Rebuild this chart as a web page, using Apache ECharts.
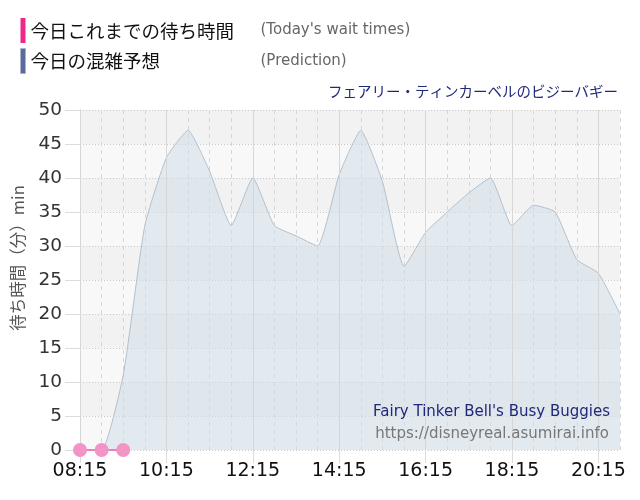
<!DOCTYPE html>
<html>
<head>
<meta charset="utf-8">
<script src="https://cdn.jsdelivr.net/npm/echarts@6/dist/echarts.min.js"></script>
<style>
  html, body { margin: 0; padding: 0; background: #fff; }
  #main { width: 640px; height: 500px; }
</style>
</head>
<body>
<div id="main"></div>
<script>
// time slots, every 30 minutes
const times = [
    '08:15', '08:45', '09:15', '09:45', '10:15', '10:45', '11:15', '11:45', '12:15',
    '12:45', '13:15', '13:45', '14:15', '14:45', '15:15', '15:45', '16:15', '16:45',
    '17:15', '17:45', '18:15', '18:45', '19:15', '19:45', '20:15', '20:45'
];
// predicted wait (min)
const prediction = [
    0, 0, 11, 33, 43, 47, 41, 33, 40,
    33, 31.5, 30, 40.5, 47, 39.5, 27, 32, 35,
    37.8, 40, 33, 36, 35, 28, 26, 20
];
// actual wait so far today
const today = [0, 0, 0];

const yTicks = { min: 0, max: 50, step: 5 };

const latin = '"DejaVu Sans", Verdana, sans-serif';
const jp = '"Noto Sans CJK JP", "DejaVu Sans", sans-serif';

const myChart = echarts.init(document.getElementById('main'));

let option;

option = {
    animation: false,
    backgroundColor: '#fff',
    title: {
        text: 'フェアリー・ティンカーベルのビジーバギー',
        right: 22,
        top: 84,
        padding: 0,
        textStyle: { fontSize: 14.5, fontWeight: 'normal', color: '#20287a', fontFamily: jp }
    },
    legend: {
        orient: 'vertical',
        left: 20,
        top: 18,
        padding: 0,
        itemWidth: 5,
        itemHeight: 25,
        itemGap: 5,
        selectedMode: false,
        data: [
            { name: 'today', icon: 'rect', itemStyle: { color: '#f0288c' } },
            { name: 'prediction', icon: 'rect', itemStyle: { color: '#5b6a9c', borderColor: '#a9b3cc', borderWidth: 1 } }
        ],
        formatter: function (name) {
            if (name === 'today') return '{a|今日これまでの待ち時間}{b|(Today\'s wait times)}';
            return '{a|今日の混雑予想}{b|(Prediction)}';
        },
        textStyle: {
            rich: {
                a: { fontSize: 18.5, color: '#111', fontFamily: jp, width: 230 },
                b: { fontSize: 15, color: '#666', fontFamily: latin }
            }
        }
    },
    grid: { left: 80, right: 20, top: 110, bottom: 50 },
    xAxis: [
        {
            type: 'category',
            data: times,
            boundaryGap: false,
            axisLine: { show: false },
            axisTick: { show: true, interval: 3, length: 13, lineStyle: { color: '#dcdcdc' } },
            axisLabel: { interval: 3, fontSize: 19, color: '#111', fontFamily: latin, margin: 12 },
            splitLine: { show: true, interval: 3, lineStyle: { color: '#d6d6d6', width: 1 } },
            z: 3
        },
        {
            type: 'category',
            data: times,
            boundaryGap: false,
            position: 'bottom',
            axisLine: { show: false },
            axisTick: { show: false },
            axisLabel: { show: false },
            splitLine: { show: true, interval: 0, lineStyle: { color: '#d6d6d6', type: [4, 4] } }
        }
    ],
    yAxis: {
        type: 'value',
        min: yTicks.min,
        max: yTicks.max,
        interval: yTicks.step,
        axisLine: { show: true, lineStyle: { color: '#a9afbd' } },
        axisTick: { show: true, length: 15, lineStyle: { color: '#dcdcdc' } },
        axisLabel: { fontSize: 18.5, color: '#333', fontFamily: latin, margin: 18 },
        splitLine: { show: true, lineStyle: { color: '#c8c8c8', type: [1, 2] } },
        splitArea: { show: true, areaStyle: { color: ['#f8f8f8', '#f2f2f2'] } }
    },
    graphic: [
        {
            type: 'text',
            x: 18,
            y: 258,
            rotation: Math.PI / 2,
            style: {
                text: '待ち時間（分）min',
                fontSize: 16.5,
                fill: '#555',
                fontFamily: jp,
                textAlign: 'center',
                textVerticalAlign: 'middle'
            }
        },
        {
            type: 'text',
            right: 30,
            top: 405,
            z: 10,
            style: { text: 'Fairy Tinker Bell\'s Busy Buggies', fontSize: 15, fill: '#20287a', fontFamily: latin }
        },
        {
            type: 'text',
            right: 31,
            top: 427,
            z: 10,
            style: { text: 'https://disneyreal.asumirai.info', fontSize: 15, fill: '#777', fontFamily: latin }
        }
    ],
    series: [
        {
            name: 'prediction',
            type: 'line',
            data: prediction,
            smooth: 0.15,
            symbol: 'none',
            lineStyle: { color: '#b3c0cd', width: 1 },
            itemStyle: { color: '#5b6a9c' },
            areaStyle: { color: 'rgba(210,222,233,0.82)' },
            z: 2
        },
        {
            name: 'today',
            type: 'line',
            data: today,
            symbol: 'circle',
            symbolSize: 14,
            showAllSymbol: true,
            clip: false,
            lineStyle: { color: '#ef7fbb', width: 2 },
            itemStyle: { color: '#f394c6' },
            z: 5
        }
    ]
};

option && myChart.setOption(option);
</script>
</body>
</html>
